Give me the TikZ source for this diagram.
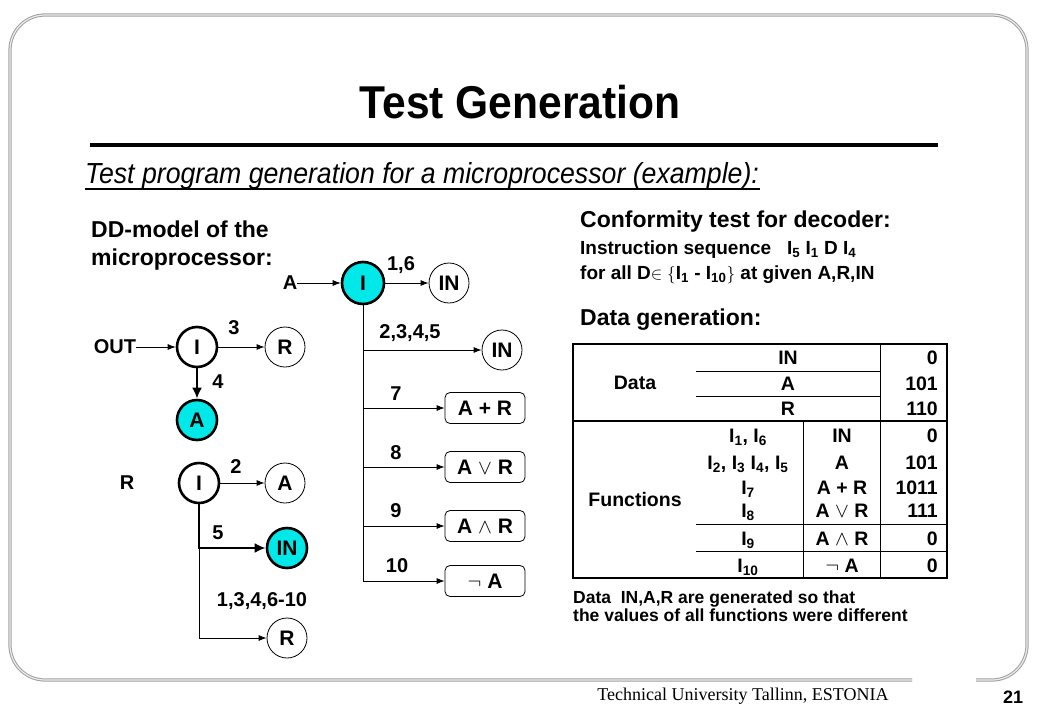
\documentclass[tikz,border=0pt]{standalone}
\usepackage{fontspec}
\setmainfont{Liberation Sans}
\newfontfamily\seriffont{Liberation Serif}
\usetikzlibrary{arrows.meta}
\definecolor{cy}{RGB}{0,232,232}
\newcommand\fs[1]{\fontsize{#1}{#1}\selectfont}
\newcommand\Is[1]{I\textsubscript{#1}}
\begin{document}
\begin{tikzpicture}[x=1pt,y=-1pt,
  nd/.style={circle,draw,minimum size=40pt,inner sep=0pt,font=\bfseries\fs{21},line width=0.8pt,fill=white},
  ndk/.style={nd,line width=2.6pt},
  ndc/.style={ndk,fill=cy},
  fb/.style={draw,rounded corners=5pt,minimum width=80pt,minimum height=31pt,inner sep=0pt,font=\bfseries\fs{21},line width=0.8pt},
  lb/.style={font=\bfseries\fs{20},inner sep=0pt},
  ar/.style={line width=0.8pt,-{Latex[length=8pt,width=6pt]}},
  ark/.style={line width=2.8pt,-{Latex[length=11pt,width=10pt]}},
  hd/.style={font=\bfseries\fs{23},inner sep=0pt,anchor=base west},
  sm/.style={font=\bfseries\fs{19},inner sep=0pt,anchor=base west},
  ft/.style={font=\bfseries\fs{17.5},inner sep=0pt,anchor=base west},
  tx/.style={font=\bfseries\fs{19.5},inner sep=0pt,anchor=base},
  tv/.style={font=\bfseries\fs{19.5},inner sep=0pt,anchor=base east},
  tl/.style={line width=1pt},
  tk/.style={line width=2.5pt},
  frame/.style={draw=gray!75,double=gray!15,double distance=1.2pt,line width=1pt,rounded corners=35pt}
]
\useasboundingbox (0,0) rectangle (1040,720);
% frame
\draw[frame] (912,680) -- (10,680) -- (10,15) -- (1027,15) -- (1027,680) -- (976,680);
% title
\node[inner sep=0pt,anchor=base,font=\bfseries\fs{46}] (title) at (520,118) {\scalebox{0.925}[1]{Test Generation}};
\draw[line width=4pt] (90,145) -- (938,145);
\node[inner sep=0pt,anchor=base west,font=\itshape\fs{29}] (sub) at (85,183) {\scalebox{0.92}[1]{Test program generation for a microprocessor (example):}};
\draw[line width=1.5pt] (85,189) -- (760,189);
% left heading
\node[hd] (dd1) at (91,237) {DD-model of the};
\node[hd] (dd2) at (91,265) {microprocessor:};
% top graph
\node[lb] (lA) at (290,283) {A};
\node[ndc,minimum size=42pt] (I1) at (363,283) {I};
\node[nd] (IN1) at (449,283) {IN};
\draw[ar] (lA) -- (I1);
\draw[ar] (I1) -- (IN1);
\node[lb] (l16) at (401,265) {1,6};
\coordinate (b2) at (363,350);
\coordinate (b7) at (363,408);
\coordinate (b8) at (363,467);
\coordinate (b9) at (363,526);
\coordinate (b10) at (363,581);
\draw[line width=0.8pt] (I1.south) -- (b10);
\node[nd] (IN2) at (502,350) {IN};
\node[fb] (f7) at (485,408) {A + R};
\node[fb] (f8) at (485,467) {A $\vee$ R};
\node[fb] (f9) at (485,526) {A $\wedge$ R};
\node[fb] (f10) at (485,581) {$\neg$ A};
\draw[ar] (b2) -- (IN2);
\draw[ar] (b7) -- (f7);
\draw[ar] (b8) -- (f8);
\draw[ar] (b9) -- (f9);
\draw[ar] (b10) -- (f10);
\node[lb] (l2345) at (410,333) {2,3,4,5};
\node[lb] (l7) at (396,394) {7};
\node[lb] (l8) at (396,453) {8};
\node[lb] (l9) at (396,511) {9};
\node[lb] (l10) at (397,566) {10};
% OUT graph
\node[lb] (lOUT) at (115,347) {OUT};
\node[ndk] (I2) at (197,347) {I};
\node[nd] (R1) at (285,347) {R};
\node[ndc] (A1) at (197,420) {A};
\draw[ar] (lOUT) -- (I2);
\draw[ar] (I2) -- (R1);
\draw[ark] (I2) -- (A1);
\node[lb] (l3) at (234,328) {3};
\node[lb] (l4) at (218,382) {4};
% R graph
\node[lb] (lR) at (127,483) {R};
\node[ndk] (I3) at (199,483) {I};
\node[nd] (A2) at (285,483) {A};
\node[ndc] (IN3) at (287,548) {IN};
\node[nd] (R2) at (287,638) {R};
\draw[ar] (I3) -- (A2);
\coordinate (c5) at (199,548);
\draw[ark] (I3.south) -- (c5) -- (IN3);
\draw[ar] (c5) |- (R2);
\node[lb] (l2) at (236,467) {2};
\node[lb] (l5) at (218,533) {5};
\node[lb] (l1310) at (262,601) {1,3,4,6-10};
% right texts
\node[hd] (conf) at (580,227) {Conformity test for decoder:};
\node[sm] (seq) at (580,254) {Instruction sequence \ \ \Is{5} \Is{1} D \Is{4}};
\node[sm] (fall) at (580,279) {for all D$\in\{$\Is{1} - \Is{10}$\}$ at given A,R,IN};
\node[hd] (dgen) at (580,325) {Data generation:};
% table
\draw[tk] (573,344) rectangle (947,578);
\draw[tk] (573,421) -- (947,421);
\draw[tl] (696,371) -- (880,371);
\draw[tl] (696,396) -- (880,396);
\draw[tl] (880,344) -- (880,578);
\draw[tl] (803,421) -- (803,578);
\draw[tl] (696,524) -- (947,524);
\draw[tl] (696,551) -- (947,551);
\node[tx,anchor=center] (tdata) at (635,383) {Data};
\node[tx,anchor=center] (tfun) at (635,500) {Functions};
\node[tx] (d1) at (788,364) {IN};
\node[tx] (d2) at (788,390) {A};
\node[tx] (d3) at (788,415) {R};
\node[tv] (v1) at (938,364) {0};
\node[tv] (v2) at (938,390) {101};
\node[tv] (v3) at (938,415) {110};
\node[tx] (i1) at (748,442) {\Is{1}, \Is{6}};
\node[tx] (i2) at (748,469) {\Is{2}, \Is{3} \Is{4}, \Is{5}};
\node[tx] (i3) at (748,494) {\Is{7}};
\node[tx] (i4) at (748,517) {\Is{8}};
\node[tx] (i5) at (748,545) {\Is{9}};
\node[tx] (i6) at (748,572) {\Is{10}};
\node[tx] (g1) at (842,442) {IN};
\node[tx] (g2) at (842,469) {A};
\node[tx] (g3) at (842,494) {A + R};
\node[tx] (g4) at (842,517) {A $\vee$ R};
\node[tx] (g5) at (842,545) {A $\wedge$ R};
\node[tx] (g6) at (842,572) {$\neg$ A};
\node[tv] (w1) at (938,442) {0};
\node[tv] (w2) at (938,469) {101};
\node[tv] (w3) at (938,494) {1011};
\node[tv] (w4) at (938,517) {111};
\node[tv] (w5) at (938,545) {0};
\node[tv] (w6) at (938,572) {0};
\node[ft] (n1) at (573,603) {Data \ IN,A,R are generated so that};
\node[ft] (n2) at (573,621) {the values of all functions were different};
% footer
\node[inner sep=0pt,anchor=base,font=\seriffont\fs{18}] (foot) at (743,700) {Technical University Tallinn, ESTONIA};
\node[inner sep=0pt,anchor=base,font=\bfseries\fs{18}] (pg) at (1013,703) {21};
\end{tikzpicture}
\end{document}
